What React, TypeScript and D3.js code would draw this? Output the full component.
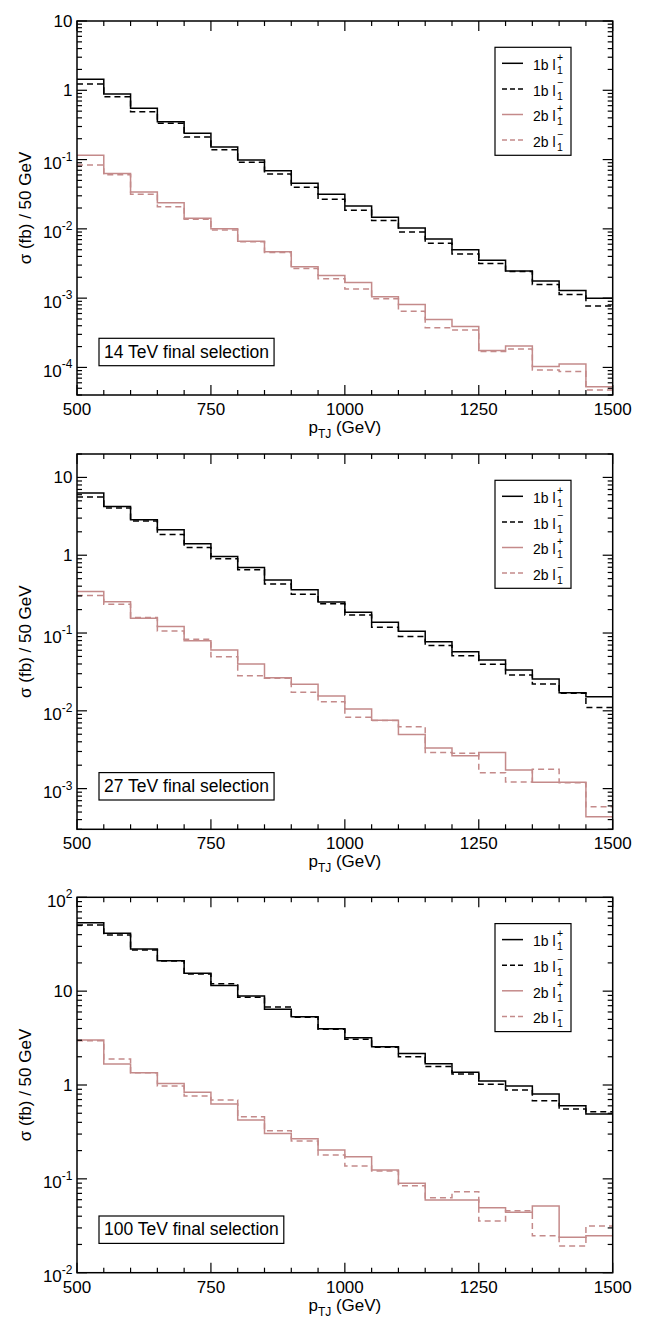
import React, { useEffect, useRef } from "react";
import * as d3 from "d3";

// bin edges (GeV)
const ptEdges = [500, 550, 600, 650, 700, 750, 800, 850, 900, 950, 1000, 1050, 1100, 1150, 1200, 1250, 1300, 1350, 1400, 1450, 1500];
const xTickMajor = [500, 750, 1000, 1250, 1500];

// 14 TeV
const tev14_1b_plus = [1.44, 0.885, 0.55, 0.352, 0.24, 0.152, 0.0987, 0.069, 0.0455, 0.0316, 0.0214, 0.0147, 0.0103, 0.00714, 0.005, 0.00352, 0.00247, 0.00177, 0.00129, 0.001];
const tev14_1b_minus = [1.23, 0.81, 0.49, 0.334, 0.212, 0.139, 0.0914, 0.062, 0.0398, 0.0267, 0.0186, 0.0132, 0.009, 0.0062, 0.00434, 0.00315, 0.00242, 0.00157, 0.00113, 0.00077];
const tev14_2b_plus = [0.115, 0.0627, 0.034, 0.0239, 0.0142, 0.01006, 0.0066, 0.00468, 0.00285, 0.00213, 0.00168, 0.00105, 0.00081, 0.00049, 0.000389, 0.000175, 0.000204, 0.000103, 0.000112, 0.0000525];
const tev14_2b_minus = [0.0836, 0.0605, 0.0316, 0.0209, 0.0138, 0.0096, 0.0065, 0.00454, 0.00267, 0.0019, 0.00136, 0.00098, 0.000646, 0.000375, 0.000348, 0.00017, 0.000185, 0.000092, 0.000087, 0.0000473];

// 27 TeV
const tev27_1b_plus = [6.3, 4.24, 2.86, 2.12, 1.4, 0.962, 0.695, 0.482, 0.359, 0.251, 0.185, 0.138, 0.105, 0.077, 0.0575, 0.045, 0.0335, 0.0257, 0.0171, 0.0152];
const tev27_1b_minus = [5.6, 4.04, 2.75, 1.85, 1.26, 0.9, 0.649, 0.428, 0.316, 0.237, 0.171, 0.119, 0.09, 0.069, 0.051, 0.0398, 0.0289, 0.0221, 0.0168, 0.011];
const tev27_2b_plus = [0.341, 0.253, 0.155, 0.121, 0.0795, 0.0605, 0.04, 0.0267, 0.0219, 0.0155, 0.01055, 0.00755, 0.00498, 0.00332, 0.00264, 0.00292, 0.00173, 0.00121, 0.00121, 0.000434];
const tev27_2b_minus = [0.303, 0.234, 0.158, 0.106, 0.083, 0.0497, 0.0283, 0.0263, 0.0173, 0.0131, 0.00824, 0.0075, 0.00622, 0.00292, 0.00284, 0.0016, 0.00122, 0.00177, 0.00119, 0.000583];

// 100 TeV
const tev100_1b_plus = [53.7, 41.3, 28.1, 21.1, 15.5, 11.5, 8.87, 6.4, 5.35, 3.98, 3.19, 2.56, 2.16, 1.68, 1.37, 1.1, 0.978, 0.8, 0.602, 0.49];
const tev100_1b_minus = [50.7, 39.6, 27.4, 21.0, 15.2, 12.0, 8.6, 6.78, 5.26, 3.93, 3.07, 2.52, 2.0, 1.57, 1.31, 1.02, 0.885, 0.68, 0.555, 0.519];
const tev100_2b_plus = [3.02, 1.67, 1.35, 1.04, 0.836, 0.628, 0.424, 0.305, 0.268, 0.203, 0.172, 0.124, 0.0895, 0.0596, 0.0596, 0.0493, 0.044, 0.0513, 0.0238, 0.0248];
const tev100_2b_minus = [2.97, 1.89, 1.35, 0.975, 0.763, 0.692, 0.459, 0.326, 0.253, 0.18, 0.137, 0.121, 0.0845, 0.063, 0.073, 0.0356, 0.0457, 0.0248, 0.0192, 0.0315];

const panelLabels = ["14 TeV final selection", "27 TeV final selection", "100 TeV final selection"];
const legendNames = ["1b l", "1b l", "2b l", "2b l"];
const legendSups = ["+", "\u2212", "+", "\u2212"];

const BLACK = "#000";
const PINK = "#c48a8a";
const FONT = "'Liberation Sans', Arial, Helvetica, sans-serif";

const panels = [
  { top: 21, bottom: 395, ymin: 4e-5, ymax: 10, series: [tev14_1b_plus, tev14_1b_minus, tev14_2b_plus, tev14_2b_minus] },
  { top: 454, bottom: 829.3, ymin: 3e-4, ymax: 20, series: [tev27_1b_plus, tev27_1b_minus, tev27_2b_plus, tev27_2b_minus] },
  { top: 897.3, bottom: 1272.7, ymin: 0.01, ymax: 100, series: [tev100_1b_plus, tev100_1b_minus, tev100_2b_plus, tev100_2b_minus] },
];

const LEFT = 77;
const RIGHT = 612.7;

export default function App() {
  const ref = useRef<SVGSVGElement | null>(null);

  useEffect(() => {
    const svg = d3.select(ref.current);
    svg.selectAll("*").remove();

    const x = d3.scaleLinear().domain([500, 1500]).range([LEFT, RIGHT]);
    const styles = [
      { color: BLACK, dash: null },
      { color: BLACK, dash: "6,4" },
      { color: PINK, dash: null },
      { color: PINK, dash: "6,4" },
    ];

    panels.forEach((p, pi) => {
      const g = svg.append("g");
      const y = d3.scaleLog().domain([p.ymin, p.ymax]).range([p.bottom, p.top]);

      // histograms
      const line = d3
        .line<[number, number]>()
        .x((d) => x(d[0]))
        .y((d) => y(d[1]))
        .curve(d3.curveStepAfter);
      p.series.forEach((vals, si) => {
        const pts: [number, number][] = vals.map((v, i) => [ptEdges[i], v]);
        pts.push([ptEdges[ptEdges.length - 1], vals[vals.length - 1]]);
        const path = g
          .append("path")
          .attr("d", line(pts) as string)
          .attr("fill", "none")
          .attr("stroke", styles[si].color)
          .attr("stroke-width", 1.5);
        if (styles[si].dash) path.attr("stroke-dasharray", styles[si].dash);
      });

      // frame
      g.append("rect")
        .attr("x", LEFT)
        .attr("y", p.top)
        .attr("width", RIGHT - LEFT)
        .attr("height", p.bottom - p.top)
        .attr("fill", "none")
        .attr("stroke", "#000")
        .attr("stroke-width", 1.5);

      // x ticks
      const xt = d3.range(500, 1501, 50);
      xt.forEach((v) => {
        const major = xTickMajor.includes(v);
        const len = major ? 10 : 5;
        const xx = x(v);
        g.append("line").attr("x1", xx).attr("x2", xx).attr("y1", p.bottom).attr("y2", p.bottom - len).attr("stroke", "#000").attr("stroke-width", 1.2);
        g.append("line").attr("x1", xx).attr("x2", xx).attr("y1", p.top).attr("y2", p.top + len).attr("stroke", "#000").attr("stroke-width", 1.2);
      });
      xTickMajor.forEach((v) => {
        g.append("text")
          .attr("x", x(v))
          .attr("y", p.bottom + 20)
          .attr("text-anchor", "middle")
          .attr("font-family", FONT)
          .attr("font-size", 17)
          .text(String(v));
      });

      // x axis label
      const xl = g
        .append("text")
        .attr("x", (LEFT + RIGHT) / 2)
        .attr("y", p.bottom + 38)
        .attr("text-anchor", "middle")
        .attr("font-family", FONT)
        .attr("font-size", 17);
      xl.append("tspan").text("p");
      xl.append("tspan").attr("font-size", 12).attr("dy", 5).text("TJ");
      xl.append("tspan").attr("dy", -5).text(" (GeV)");

      // y ticks
      const e0 = Math.floor(Math.log10(p.ymin));
      const e1 = Math.ceil(Math.log10(p.ymax));
      for (let e = e0; e <= e1; e++) {
        for (let k = 1; k <= 9; k++) {
          const v = k * Math.pow(10, e);
          if (v < p.ymin * 0.999 || v > p.ymax * 1.001) continue;
          const yy = y(v);
          const len = k === 1 ? 10 : 5;
          g.append("line").attr("x1", LEFT).attr("x2", LEFT + len).attr("y1", yy).attr("y2", yy).attr("stroke", "#000").attr("stroke-width", 1.2);
          g.append("line").attr("x1", RIGHT).attr("x2", RIGHT - len).attr("y1", yy).attr("y2", yy).attr("stroke", "#000").attr("stroke-width", 1.2);
          if (k === 1) {
            const t = g
              .append("text")
              .attr("x", 72.5)
              .attr("text-anchor", "end")
              .attr("font-family", FONT)
              .attr("font-size", 17);
            if (e === 0) {
              t.attr("y", yy + 6).text("1");
            } else if (e === 1) {
              t.attr("y", yy + 6).text("10");
            } else {
              t.attr("y", yy + 9.5);
              t.append("tspan").text("10");
              t.append("tspan").attr("font-size", 12).attr("dy", -8.5).text(String(e));
            }
          }
        }
      }

      // y axis label
      const cy = (p.top + p.bottom) / 2;
      g.append("text")
        .attr("transform", `translate(31,${cy}) rotate(-90)`)
        .attr("text-anchor", "middle")
        .attr("font-family", FONT)
        .attr("font-size", 17)
        .text("\u03c3 (fb) / 50 GeV");

      // legend
      const lx = 495;
      const ly = p.top + 26.3;
      g.append("rect")
        .attr("x", lx)
        .attr("y", ly)
        .attr("width", 76)
        .attr("height", 108)
        .attr("fill", "#fff")
        .attr("stroke", "#000")
        .attr("stroke-width", 1.2);
      legendNames.forEach((name, i) => {
        const rowY = ly + 16 + i * 25.6;
        const ln = g
          .append("line")
          .attr("x1", 502)
          .attr("x2", 523)
          .attr("y1", rowY)
          .attr("y2", rowY)
          .attr("stroke", styles[i].color)
          .attr("stroke-width", 1.5);
        if (styles[i].dash) ln.attr("stroke-dasharray", "5,3");
        const tt = g
          .append("text")
          .attr("x", 533)
          .attr("y", rowY + 6.7)
          .attr("font-family", FONT)
          .attr("font-size", 14)
          .text(name);
        const w = (tt.node() as SVGTextElement).getComputedTextLength();
        g.append("text")
          .attr("x", 533 + w + 1.5)
          .attr("y", rowY - 2.5)
          .attr("font-family", FONT)
          .attr("font-size", 10.5)
          .text(legendSups[i]);
        g.append("text")
          .attr("x", 533 + w + 1.5)
          .attr("y", rowY + 10.7)
          .attr("font-family", FONT)
          .attr("font-size", 10.5)
          .text("1");
      });

      // panel label box
      const baseY = p.bottom - 37.3;
      const lt = g
        .append("text")
        .attr("x", LEFT + 27)
        .attr("y", baseY)
        .attr("font-family", FONT)
        .attr("font-size", 17.5)
        .text(panelLabels[pi]);
      const tw = (lt.node() as SVGTextElement).getComputedTextLength();
      g.insert("rect", "text:last-of-type")
        .attr("x", LEFT + 22)
        .attr("y", baseY - 19.4)
        .attr("width", tw + 10)
        .attr("height", 27.4)
        .attr("fill", "#fff")
        .attr("stroke", "#000")
        .attr("stroke-width", 1.2);
      lt.raise();
    });
  }, []);

  return (
    <svg
      ref={ref}
      width={646}
      height={1319}
      style={{ position: "absolute", left: 0, top: 0, background: "#fff" }}
    />
  );
}
